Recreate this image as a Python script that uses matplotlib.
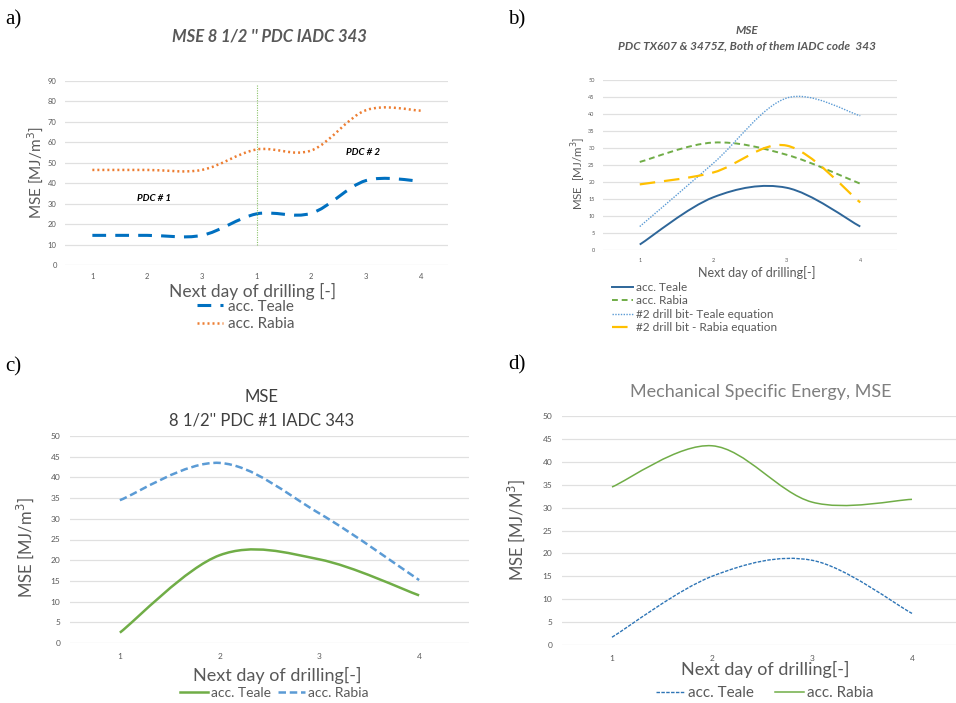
import matplotlib
matplotlib.use('Agg')
import matplotlib.pyplot as plt
import numpy as np
from matplotlib.path import Path
from matplotlib.patches import PathPatch
from matplotlib.lines import Line2D

# data
a_days = ['1', '2', '3', '1', '2', '3', '4']
a_teale = [14.5, 14.5, 14.5, 25.0, 25.3, 41.3, 41.0]
a_rabia = [46.5, 46.5, 46.5, 56.5, 56.0, 75.7, 75.5]

b_days = ['1', '2', '3', '4']
b_teale = [1.6, 15.5, 18.3, 6.9]
b_rabia = [25.9, 31.6, 28.0, 19.5]
b_teale2 = [6.9, 25.5, 44.7, 39.5]
b_rabia2 = [19.3, 22.8, 30.7, 14.0]

c_days = ['1', '2', '3', '4']
c_teale = [2.5, 21.2, 20.2, 11.5]
c_rabia = [34.5, 43.5, 31.3, 15.2]

d_days = ['1', '2', '3', '4']
d_teale = [1.7, 15.0, 18.5, 6.9]
d_rabia = [34.5, 43.5, 31.2, 31.8]

W, H = 956, 703
FONT = 'Lato'
GRAY = '#595959'
plt.rcParams['font.family'] = [FONT, 'DejaVu Sans']

fig = plt.figure(figsize=(W / 100, H / 100), dpi=100)


def px(x, y):
    return x / W, 1 - y / H


def make_axes(l, t, r, b):
    ax = fig.add_axes([l / W, 1 - b / H, (r - l) / W, (b - t) / H])
    for s in ax.spines.values():
        s.set_visible(False)
    ax.yaxis.grid(True, color='#e0e0e0', lw=0.9)
    ax.set_axisbelow(True)
    return ax


def smooth(ax, y, **kw):
    # excel-like smoothed line drawn as bezier path through the points
    pts = np.column_stack([np.arange(len(y)), np.asarray(y, float)])
    ext = np.vstack([pts[0], pts, pts[-1]])
    verts = [pts[0]]
    codes = [Path.MOVETO]
    for i in range(len(pts) - 1):
        p0, p1, p2, p3 = ext[i], ext[i + 1], ext[i + 2], ext[i + 3]
        verts += [p1 + (p2 - p0) / 6, p2 - (p3 - p1) / 6, p2]
        codes += [Path.CURVE4] * 3
    ax.add_patch(PathPatch(Path(verts, codes), fill=False, **kw))
    return Line2D([], [], color=kw.get('edgecolor'), lw=kw.get('lw'), ls=kw.get('ls'))


def ticks(ax, labels, ymax, step, size, pad):
    ax.set_xlim(-0.5, len(labels) - 0.5)
    ax.set_ylim(0, ymax)
    ax.set_xticks(range(len(labels)))
    ax.set_xticklabels(labels)
    ax.set_yticks(np.arange(0, ymax + 1, step))
    ax.tick_params(length=0, labelsize=size, labelcolor=GRAY, pad=pad)


# ---- a)
ax = make_axes(65, 81, 448, 265)
ticks(ax, a_days, 90, 10, 5.5, 6)
h1 = smooth(ax, a_teale, edgecolor='#0070c0', lw=2.2, ls=(0, (4.5, 3)))
h2 = smooth(ax, a_rabia, edgecolor='#ed7d31', lw=1.8, ls=(0, (0.8, 1.2)))
ax.plot([3, 3], [10, 88], color='#8cc36a', lw=0.8, ls=(0, (1, 1.2)))
ax.text(1.13, 32.6, 'PDC # 1', fontsize=7, fontweight='bold', fontstyle='italic', ha='center', va='center')
ax.text(4.94, 55, 'PDC # 2', fontsize=7, fontweight='bold', fontstyle='italic', ha='center', va='center')
fig.text(*px(269, 36), "MSE 8 1/2 '' PDC IADC 343", fontsize=12, fontweight='bold',
         fontstyle='italic', color=GRAY, ha='center', va='center')
fig.text(*px(253, 291), 'Next day of drilling [-]', fontsize=12.5, color=GRAY, ha='center', va='center')
fig.text(*px(35, 173), 'MSE [MJ/m$^3$]', fontsize=11, color=GRAY, rotation=90, ha='center', va='center')
fig.legend([h1, h2], ['acc. Teale', 'acc. Rabia'], loc='center left', bbox_to_anchor=px(197, 315.5),
           frameon=False, fontsize=11, labelcolor=GRAY, handlelength=1.7, handletextpad=0.3,
           labelspacing=0.25, borderpad=0, borderaxespad=0)

# ---- b)
ax = make_axes(603, 80, 897, 250)
ticks(ax, b_days, 50, 5, 4, 6)
hb = [smooth(ax, b_teale, edgecolor='#2e6699', lw=1.4, ls='-'),
      smooth(ax, b_rabia, edgecolor='#70ad47', lw=1.4, ls=(0, (3, 2))),
      smooth(ax, b_teale2, edgecolor='#5b9bd5', lw=1.0, ls=(0, (1, 1))),
      smooth(ax, b_rabia2, edgecolor='#ffc000', lw=1.6, ls=(0, (7, 4)))]
fig.text(*px(747, 30), 'MSE', fontsize=8.5, fontweight='bold', fontstyle='italic', color=GRAY, ha='center', va='center')
fig.text(*px(747, 46), 'PDC TX607 & 3475Z, Both of them IADC code  343', fontsize=8.5, fontweight='bold',
         fontstyle='italic', color=GRAY, ha='center', va='center')
fig.text(*px(757, 273), 'Next day of drilling[-]', fontsize=9, color=GRAY, ha='center', va='center')
fig.text(*px(579, 173), 'MSE  [MJ/m$^3$]', fontsize=8.3, color=GRAY, rotation=90, ha='center', va='center')
fig.legend(hb, ['acc. Teale', 'acc. Rabia', '#2 drill bit- Teale equation', '#2 drill bit - Rabia equation'],
           loc='center left', bbox_to_anchor=px(612, 307.5), frameon=False, fontsize=8.5, labelcolor=GRAY,
           handlelength=1.8, handletextpad=0.2, labelspacing=0.2, borderpad=0, borderaxespad=0)

# ---- c)
ax = make_axes(70, 436, 469, 643)
ticks(ax, c_days, 50, 5, 6, 7)
hc = [smooth(ax, c_teale, edgecolor='#70ad47', lw=1.8, ls='-'),
      smooth(ax, c_rabia, edgecolor='#5b9bd5', lw=1.8, ls=(0, (3, 1.5)))]
fig.text(*px(262, 397), 'MSE', fontsize=12, color='#404040', ha='center', va='center')
fig.text(*px(262, 420), "8 1/2'' PDC #1 IADC 343", fontsize=12, color='#404040', ha='center', va='center')
fig.text(*px(277, 675), 'Next day of drilling[-]', fontsize=13, color=GRAY, ha='center', va='center')
fig.text(*px(25, 548), 'MSE [MJ/m$^3$]', fontsize=12, color=GRAY, rotation=90, ha='center', va='center')
fig.legend(hc, ['acc. Teale', 'acc. Rabia'], loc='center left', bbox_to_anchor=px(180, 693), ncol=2,
           frameon=False, fontsize=10, labelcolor=GRAY, handlelength=2.0, handletextpad=0.2,
           columnspacing=0.5, borderpad=0, borderaxespad=0)

# ---- d)
ax = make_axes(562, 416, 962, 645)
ticks(ax, d_days, 50, 5, 6, 7)
hd = [smooth(ax, d_teale, edgecolor='#2e75b6', lw=1.0, ls=(0, (2.5, 1))),
      smooth(ax, d_rabia, edgecolor='#70ad47', lw=1.1, ls='-')]
fig.text(*px(761, 392), 'Mechanical Specific Energy, MSE', fontsize=13, color='#7f7f7f', ha='center', va='center')
fig.text(*px(765, 669), 'Next day of drilling[-]', fontsize=13, color=GRAY, ha='center', va='center')
fig.text(*px(516, 530), 'MSE [MJ/M$^3$]', fontsize=12, color=GRAY, rotation=90, ha='center', va='center')
fig.legend(hd, ['acc. Teale', 'acc. Rabia'], loc='center left', bbox_to_anchor=px(656, 693), ncol=2,
           frameon=False, fontsize=11, labelcolor=GRAY, handlelength=1.9, handletextpad=0.2,
           columnspacing=1.4, borderpad=0, borderaxespad=0)

# panel letters
for lab, (x, y) in zip(['a)', 'b)', 'c)', 'd)'], [(5, 20), (508, 20), (5, 367), (508, 365)]):
    fig.text(*px(x, y), lab, fontsize=15, family='Liberation Serif', ha='left', va='center')

plt.savefig('out.png', dpi=100)
plt.close(fig)
